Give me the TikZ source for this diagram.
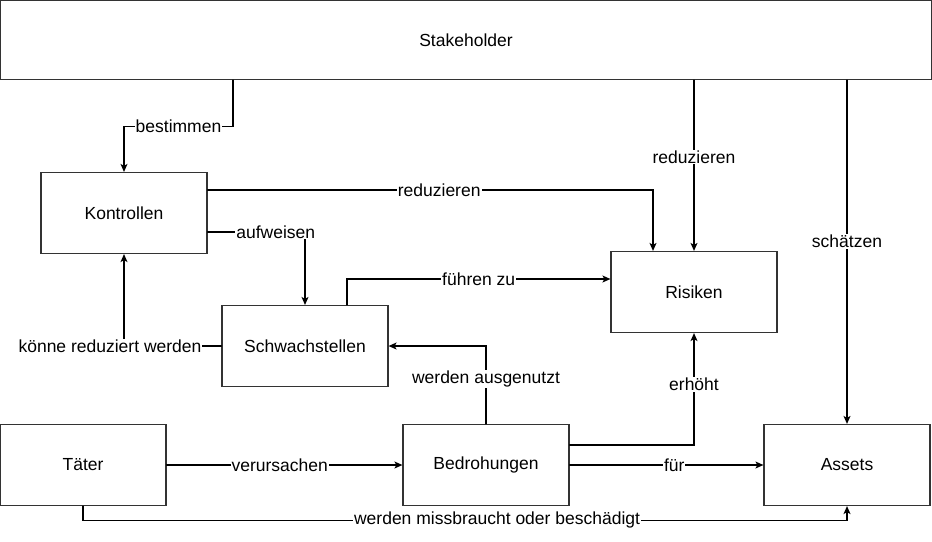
\documentclass[tikz,border=0pt]{standalone}
\usepackage{fontspec}
\setmainfont{Liberation Sans}
\usepackage{tikz}
\usetikzlibrary{arrows.meta,positioning,calc}

\begin{document}
\begin{tikzpicture}[
    x=1pt,y=-1pt,
    line cap=round,
    %styles
    box/.style={draw=black!80,line width=1.2pt,minimum width=166pt,minimum height=81pt,
      font=\fontsize{17.5}{21}\selectfont},
    link/.style={line width=1.1pt,-{Stealth[length=8pt,width=7pt,inset=2pt]}},
    lbl/.style={fill=white,inner sep=1pt,font=\fontsize{17.5}{21}\selectfont},
  ]
  \useasboundingbox (0,0) rectangle (932,541);

  %boxes
  \node[box,minimum width=931pt,minimum height=79pt] (stake) at (466,40) {Stakeholder};
  \node[box] (kontr) at (124,213) {Kontrollen};
  \node[box] (schw) at (305,346) {Schwachstellen};
  \node[box] (risk) at (694,292) {Risiken};
  \node[box] (taeter) at (83,465) {Täter};
  \node[box] (bedr) at (486,465) {Bedrohungen};
  \node[box] (assets) at (847,465) {Assets};

  %links from stakeholder
  \draw[link] ([xshift=-233pt]stake.south) -- ++(0,46)
  -| node[lbl,pos=0.25] {bestimmen} (kontr.north);
  \draw[link] (risk.north |- stake.south) -- node[lbl,pos=0.45] {reduzieren} (risk.north);
  \draw[link] (assets.north |- stake.south) -- node[lbl,pos=0.47] {schätzen} (assets.north);

  %middle part
  \draw[link] ([yshift=23pt]kontr.east) -| node[lbl,pos=0.26] {reduzieren} ([xshift=-41pt]risk.north);
  \draw[link] ([yshift=-19pt]kontr.east) -| node[lbl,pos=0.35] {aufweisen} (schw.north);
  \draw[link] ([xshift=42pt]schw.north) |- node[lbl,pos=0.75] {führen zu} ([yshift=13pt]risk.west);
  \draw[link] (schw.west) -| node[lbl,pos=0.5,xshift=-14pt] {könne reduziert werden} (kontr.south);
  \draw[link] (bedr.north) |- node[lbl,pos=0.29] {werden ausgenutzt} (schw.east);
  \draw[link] ([yshift=20pt]bedr.east) -| node[lbl,pos=0.77] {erhöht} (risk.south);

  %bottom row
  \draw[link] (taeter) -- node[lbl,pos=0.48] {verursachen} (bedr);
  \draw[link] (bedr) -- node[lbl,pos=0.54] {für} (assets);
  \draw[link] (taeter.south) -- ++(0,14)
  -| node[lbl,pos=0.271] {werden missbraucht oder beschädigt} (assets.south);
\end{tikzpicture}
\end{document}
